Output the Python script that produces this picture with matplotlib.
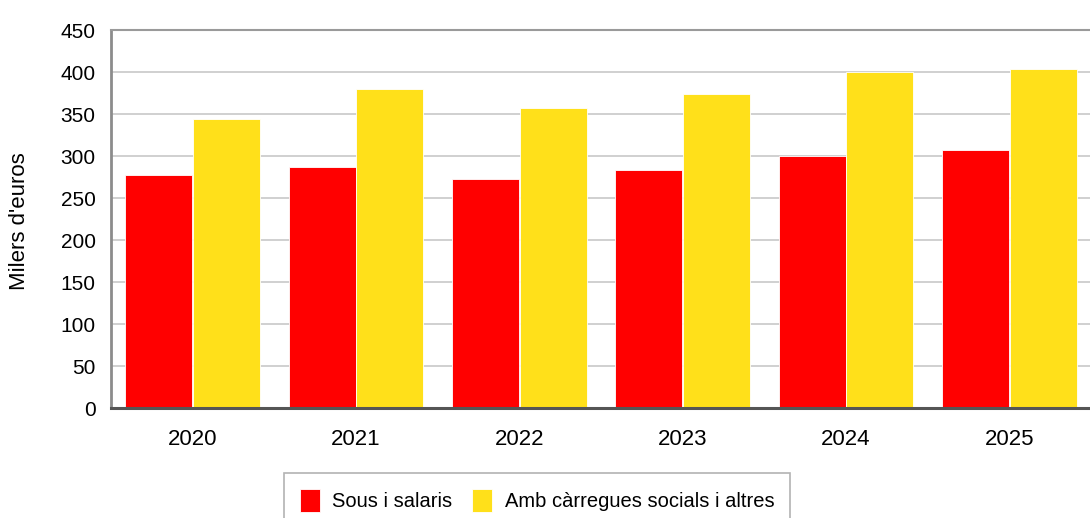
import matplotlib
matplotlib.use("Agg")
import matplotlib.pyplot as plt
import numpy as np

############################
# DATA
############################
years = ["2020", "2021", "2022", "2023", "2024", "2025"]
sous = [277, 287, 273, 283, 300, 307]          # Sous i salaris
carregues = [344, 380, 357, 374, 400, 404]     # Amb càrregues socials i altres
yticks = [0, 50, 100, 150, 200, 250, 300, 350, 400, 450]

RED = "#FF0000"
YELLOW = "#FFE01A"

plt.rcParams["font.family"] = ["Liberation Sans", "DejaVu Sans"]

############################
# PLOT
############################
fig = plt.figure(figsize=(10.9, 5.18), dpi=100)
ax = fig.add_axes([111 / 1090, 110 / 518, 980 / 1090, 378 / 518])

x = np.arange(len(years))
w = 0.41
ax.bar(x - 0.208, sous, w, color=RED, edgecolor="white", linewidth=0.6,
       label="Sous i salaris", zorder=3)
ax.bar(x + 0.208, carregues, w, color=YELLOW, edgecolor="white", linewidth=0.6,
       label="Amb càrregues socials i altres", zorder=3)

ax.set_xlim(-0.5, len(years) - 0.5)
ax.set_ylim(0, 450)
ax.set_yticks(yticks)
ax.set_xticks(x)
ax.set_xticklabels(years)
ax.tick_params(axis="both", length=0)
ax.tick_params(axis="y", pad=11, labelsize=15)
ax.tick_params(axis="x", pad=15, labelsize=16)
ax.yaxis.grid(True, color="#C8C8C8", linewidth=1.2, zorder=0)
ax.set_axisbelow(True)

ax.spines["left"].set_color("#8C8C8C")
ax.spines["left"].set_linewidth(2)
ax.spines["top"].set_color("#9A9A9A")
ax.spines["top"].set_linewidth(1.5)
ax.spines["right"].set_visible(False)
ax.spines["bottom"].set_color("#555555")
ax.spines["bottom"].set_linewidth(2.2)
ax.spines["bottom"].set_zorder(4)

fig.text(20 / 1090, 1 - 221 / 518, "Milers d'euros", rotation=90,
         ha="center", va="center", fontsize=16)

leg = ax.legend(loc="upper center", bbox_to_anchor=(537 / 1090, 45 / 518),
                bbox_transform=fig.transFigure, ncol=2, frameon=True,
                fancybox=False, fontsize=14.5, handlelength=1.0,
                handleheight=1.4, handletextpad=0.6, columnspacing=1.0,
                borderpad=0.8, borderaxespad=0)
leg.get_frame().set_edgecolor("#A0A0A0")
leg.get_frame().set_linewidth(1.2)

fig.savefig("out.png", dpi=100)
